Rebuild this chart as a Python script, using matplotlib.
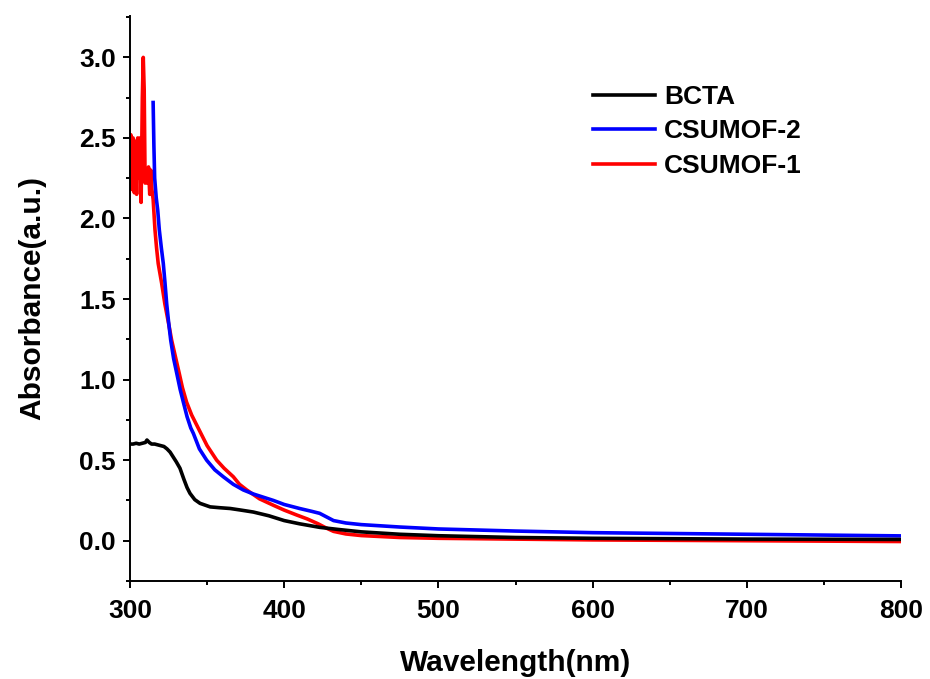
import matplotlib
matplotlib.use("Agg")
import matplotlib.pyplot as plt
from matplotlib.ticker import MultipleLocator, FormatStrFormatter

plt.rcParams['font.family'] = ['Liberation Sans', 'DejaVu Sans']
plt.rcParams['font.weight'] = 'bold'

# BCTA
bcta_x = [300, 302, 304, 306, 308, 310, 311, 312.5, 314, 316, 318, 320, 322, 324, 326, 328,
          330, 332.4, 335, 337, 338.9, 342, 345.4, 352, 358, 365, 372, 380, 390, 400,
          410, 423, 435, 450, 475, 500, 550, 600, 700, 800]
bcta_y = [0.60, 0.60, 0.605, 0.60, 0.605, 0.61, 0.625, 0.61, 0.60, 0.60, 0.595, 0.59, 0.585, 0.57, 0.55, 0.52,
          0.49, 0.45, 0.38, 0.33, 0.294, 0.255, 0.232, 0.21, 0.205, 0.20, 0.19, 0.178, 0.155, 0.125,
          0.105, 0.083, 0.07, 0.055, 0.04, 0.031, 0.02, 0.015, 0.01, 0.008]

# CSUMOF-2
m2_x = [315, 315.5, 316, 317, 318, 319, 320.3, 321.6, 322.7, 323.8, 325, 326.4, 328.3, 330.3,
        332.5, 334.6, 337, 339.4, 341.1, 345, 349.7, 355, 360.5, 367, 373.5, 380, 393, 400,
        410, 418, 423, 428, 432, 440, 450, 475, 500, 550, 600, 700, 800]
m2_y = [2.72, 2.45, 2.25, 2.13, 2.05, 1.93, 1.82, 1.72, 1.60, 1.47, 1.36, 1.245, 1.13, 1.04,
        0.94, 0.86, 0.77, 0.70, 0.666, 0.57, 0.50, 0.44, 0.397, 0.35, 0.315, 0.29, 0.25, 0.225,
        0.20, 0.182, 0.17, 0.145, 0.125, 0.11, 0.10, 0.085, 0.073, 0.06, 0.05, 0.04, 0.03]

# CSUMOF-1
m1_x = [300, 300.5, 301.2, 302, 302.8, 303.5, 304.3, 305, 305.8, 306.5, 307.2, 308, 308.6, 309.2,
        309.8, 310.5, 311.2, 312, 312.8, 313.5, 314.2, 315, 316.2, 317.2, 318.3, 320.5, 322.6,
        325, 327, 329.5, 331.9, 334, 336.7, 340, 344.2, 350, 356.2, 361, 367, 371, 375.7, 384,
        393, 400, 408, 415, 422, 427, 432, 440, 450, 475, 500, 600, 700, 800]
m1_y = [2.20, 2.52, 2.18, 2.50, 2.16, 2.48, 2.15, 2.50, 2.25, 2.50, 2.10, 2.75, 3.00, 2.80,
        2.22, 2.30, 2.22, 2.32, 2.15, 2.30, 2.18, 2.12, 1.93, 1.82, 1.72, 1.60, 1.47,
        1.35, 1.245, 1.14, 1.04, 0.95, 0.86, 0.78, 0.70, 0.59, 0.50, 0.45, 0.397, 0.35, 0.315, 0.26,
        0.22, 0.19, 0.16, 0.135, 0.105, 0.08, 0.058, 0.042, 0.032, 0.02, 0.015, 0.005, 0.0, -0.005]

fig = plt.figure(figsize=(9.3, 6.79), dpi=100)
ax = fig.add_axes([130/930, 1-581/679, (901-130)/930, (581-15.5)/679])

lw = 2.6
ax.plot(bcta_x, bcta_y, color='black', lw=lw, label='BCTA', zorder=3)
ax.plot(m2_x, m2_y, color='#0000ff', lw=lw, label='CSUMOF-2', zorder=2)
ax.plot(m1_x, m1_y, color='#ff0000', lw=lw, label='CSUMOF-1', zorder=1)

ax.set_xlim(300, 800)
ax.set_ylim(-0.25, 3.26)
ax.xaxis.set_major_locator(MultipleLocator(100))
ax.xaxis.set_minor_locator(MultipleLocator(50))
ax.yaxis.set_major_locator(MultipleLocator(0.5))
ax.yaxis.set_minor_locator(MultipleLocator(0.25))
ax.yaxis.set_major_formatter(FormatStrFormatter('%.1f'))

for s in ['top', 'right']:
    ax.spines[s].set_visible(False)
for s in ['left', 'bottom']:
    ax.spines[s].set_linewidth(1.4)

ax.tick_params(which='major', direction='out', length=5, width=1.4, labelsize=19)
ax.tick_params(axis='x', which='major', pad=8)
ax.tick_params(axis='y', which='major', pad=5)
ax.tick_params(which='minor', direction='out', length=3, width=1.4)
for lab in ax.get_xticklabels() + ax.get_yticklabels():
    lab.set_fontweight('bold')

ax.set_xlabel('Wavelength(nm)', fontsize=21.5, fontweight='bold', labelpad=19)
ax.set_ylabel('Absorbance(a.u.)', fontsize=21.5, fontweight='bold', labelpad=24)

leg = ax.legend(loc='upper left', bbox_to_anchor=(0.576, 0.91), frameon=False,
                prop={'size': 19, 'weight': 'bold'}, handlelength=2.35, handletextpad=0.35,
                labelspacing=0.4, borderpad=0.2)

fig.savefig('out.png', dpi=100)
